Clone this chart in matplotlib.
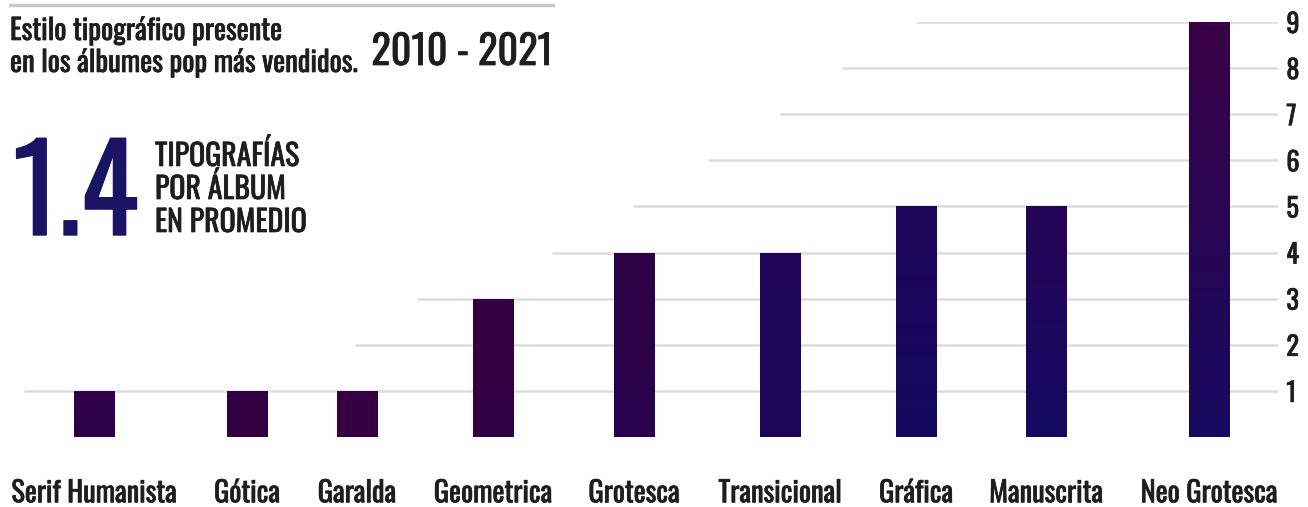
import numpy as np
import matplotlib
matplotlib.use("Agg")
import matplotlib.pyplot as plt
import matplotlib.patheffects as pe
from matplotlib.colors import LinearSegmentedColormap

# ── Data ──────────────────────────────────────────────────────────────────────
categories = ["Serif Humanista", "Gótica", "Garalda", "Geometrica", "Grotesca",
              "Transicional", "Gráfica", "Manuscrita", "Neo Grotesca"]
counts = [1, 1, 1, 3, 4, 4, 5, 5, 9]
y_ticks = [1, 2, 3, 4, 5, 6, 7, 8, 9]
avg_per_album = 1.4
period = "2010 - 2021"

# ── Layout (pixels on a 1308 x 507 canvas) ───────────────────────────────────
W, H = 1308, 507
bar_x = [94, 247, 357, 493, 634, 780, 916, 1046, 1209]
bar_w = 41
grid_start = {1: 24, 2: 355, 3: 417, 4: 552, 5: 633, 6: 708, 7: 780, 8: 842, 9: 916}
grid_end = 1278
bar_colors = [("#2f0048", "#2c0049"), ("#330040", "#320042"), ("#370040", "#360041"),
              ("#36003f", "#310045"), ("#2e0046", "#28004c"), ("#200455", "#1a0659"),
              ("#1c0558", "#12085f"), ("#240458", "#130a60"), ("#3a0046", "#160a60")]

FONT = "Oswald"
TEXT = "#1e1e1e"
# Oswald ships light here; a thin outline in the text colour firms it up
BOLDEN = [pe.withStroke(linewidth=0.5, foreground=TEXT)]


def fx(px):
    return px / W


def fy(py):
    return 1 - py / H


fig = plt.figure(figsize=(W / 100, H / 100), dpi=100)
ax = fig.add_axes([0, fy(437), fx(grid_end), fy(22) - fy(437)])

# staggered gridlines, each one starting where the bars reach it
for lvl in y_ticks:
    ax.hlines(lvl, grid_start[lvl], grid_end, color="#dddddd", linewidth=1.8, zorder=0)

# bars with a soft vertical gradient
for x, v, (top, bot) in zip(bar_x, counts, bar_colors):
    bar = ax.bar(x, v, width=bar_w, color=bot, edgecolor="none", zorder=2)[0]
    cmap = LinearSegmentedColormap.from_list("g", [bot, top])
    grad = np.linspace(0, 1, 64).reshape(-1, 1)
    im = ax.imshow(grad, cmap=cmap, origin="lower", aspect="auto",
                   extent=(x - bar_w / 2, x + bar_w / 2, 0, v), zorder=3)
    im.set_clip_path(bar)
ax.set_xlim(0, grid_end)
ax.set_ylim(0, 9)

for s in ax.spines.values():
    s.set_visible(False)
ax.yaxis.tick_right()
ax.set_yticks(y_ticks, [str(t) for t in y_ticks])
ax.tick_params(axis="y", length=0, pad=6, labelsize=19, labelcolor=TEXT)
ax.set_xticks(bar_x, categories)
ax.tick_params(axis="x", length=0, pad=47, labelsize=20.5, labelcolor=TEXT)
for lab in ax.get_xticklabels() + ax.get_yticklabels():
    lab.set_fontfamily(FONT)
    lab.set_path_effects(BOLDEN)
for lab in ax.get_xticklabels():
    lab.set_verticalalignment("baseline")
ax.patch.set_visible(False)

# header
fig.add_artist(plt.Line2D([fx(10), fx(553)], [fy(5), fy(5)], color="#c8c8c8", linewidth=2.4))
fig.text(fx(10), fy(40), "Estilo tipográfico presente", family=FONT, fontsize=20.6,
         color=TEXT, va="baseline", path_effects=BOLDEN)
fig.text(fx(10), fy(72), "en los álbumes pop más vendidos.", family=FONT, fontsize=20.6,
         color=TEXT, va="baseline", path_effects=BOLDEN)
fig.text(fx(553), fy(65), period, family=FONT, fontsize=29, color=TEXT,
         va="baseline", ha="right", path_effects=BOLDEN)

# average callout
fig.text(fx(13), fy(235), f"{avg_per_album}", family=FONT, fontsize=86,
         color="#1b1464", va="baseline",
         path_effects=[pe.withStroke(linewidth=1.0, foreground="#1b1464")])
for i, line in enumerate(["TIPOGRAFÍAS", "POR ÁLBUM", "EN PROMEDIO"]):
    fig.text(fx(155), fy(166 + 33 * i), line, family=FONT, fontsize=21.5,
             color=TEXT, va="baseline", path_effects=BOLDEN)

fig.savefig("out.png", dpi=100, facecolor="white")
